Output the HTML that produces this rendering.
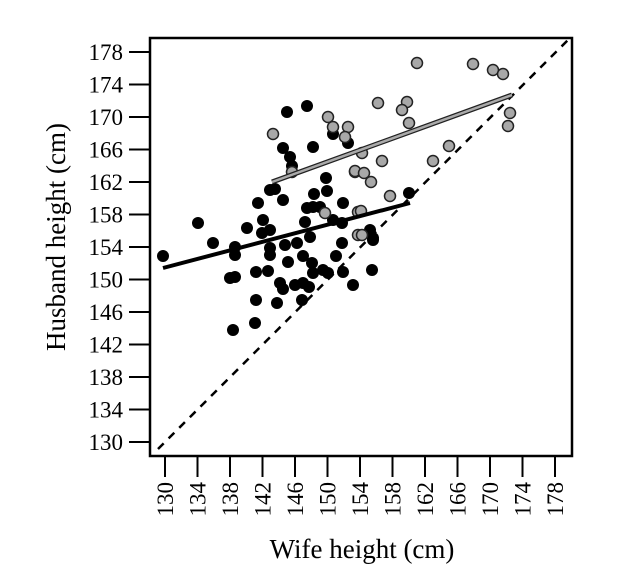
<!DOCTYPE html>
<html><head><style>body{margin:0;background:#fff}svg{display:block}</style></head><body>
<svg width="627" height="588" xmlns="http://www.w3.org/2000/svg" font-family="Liberation Serif, serif">
<rect x="150" y="38" width="422" height="418" fill="none" stroke="#000" stroke-width="2.5"/>
<g stroke="#000" stroke-width="2">
<line x1="129" x2="150" y1="52" y2="52"/><line x1="129" x2="150" y1="84.5" y2="84.5"/><line x1="129" x2="150" y1="117" y2="117"/><line x1="129" x2="150" y1="149.5" y2="149.5"/><line x1="129" x2="150" y1="182" y2="182"/><line x1="129" x2="150" y1="214.5" y2="214.5"/><line x1="129" x2="150" y1="247" y2="247"/><line x1="129" x2="150" y1="279.5" y2="279.5"/><line x1="129" x2="150" y1="312" y2="312"/><line x1="129" x2="150" y1="344.5" y2="344.5"/><line x1="129" x2="150" y1="377" y2="377"/><line x1="129" x2="150" y1="409.5" y2="409.5"/><line x1="129" x2="150" y1="442" y2="442"/>
<line y1="456" y2="477" x1="165" x2="165"/><line y1="456" y2="477" x1="197.5" x2="197.5"/><line y1="456" y2="477" x1="230" x2="230"/><line y1="456" y2="477" x1="262.5" x2="262.5"/><line y1="456" y2="477" x1="295" x2="295"/><line y1="456" y2="477" x1="327.5" x2="327.5"/><line y1="456" y2="477" x1="360" x2="360"/><line y1="456" y2="477" x1="392.5" x2="392.5"/><line y1="456" y2="477" x1="425" x2="425"/><line y1="456" y2="477" x1="457.5" x2="457.5"/><line y1="456" y2="477" x1="490" x2="490"/><line y1="456" y2="477" x1="522.5" x2="522.5"/><line y1="456" y2="477" x1="555" x2="555"/>
</g>
<g font-size="23" text-anchor="end">
<text x="123" y="60">178</text><text x="123" y="92.5">174</text><text x="123" y="125">170</text><text x="123" y="157.5">166</text><text x="123" y="190">162</text><text x="123" y="222.5">158</text><text x="123" y="255">154</text><text x="123" y="287.5">150</text><text x="123" y="320">146</text><text x="123" y="352.5">142</text><text x="123" y="385">138</text><text x="123" y="417.5">134</text><text x="123" y="450">130</text>
</g>
<g font-size="23" text-anchor="end">
<text transform="translate(173,482) rotate(-90)">130</text><text transform="translate(205.5,482) rotate(-90)">134</text><text transform="translate(238,482) rotate(-90)">138</text><text transform="translate(270.5,482) rotate(-90)">142</text><text transform="translate(303,482) rotate(-90)">146</text><text transform="translate(335.5,482) rotate(-90)">150</text><text transform="translate(368,482) rotate(-90)">154</text><text transform="translate(400.5,482) rotate(-90)">158</text><text transform="translate(433,482) rotate(-90)">162</text><text transform="translate(465.5,482) rotate(-90)">166</text><text transform="translate(498,482) rotate(-90)">170</text><text transform="translate(530.5,482) rotate(-90)">174</text><text transform="translate(563,482) rotate(-90)">178</text>
</g>
<text x="362" y="558" font-size="27" text-anchor="middle">Wife height (cm)</text>
<text transform="translate(65,237) rotate(-90)" font-size="27" text-anchor="middle">Husband height (cm)</text>
<line x1="158" y1="449" x2="570" y2="38" stroke="#000" stroke-width="2.5" stroke-dasharray="8,7"/>
<g fill="#000">
<circle cx="198" cy="223" r="6"/><circle cx="287" cy="112" r="6"/><circle cx="307" cy="106" r="6"/><circle cx="283" cy="148" r="6"/><circle cx="290" cy="157" r="6"/><circle cx="292" cy="166" r="6"/><circle cx="313" cy="147" r="6"/><circle cx="270" cy="190" r="6"/><circle cx="275" cy="189" r="6"/><circle cx="283" cy="200" r="6"/><circle cx="258" cy="203" r="6"/><circle cx="314" cy="194" r="6"/><circle cx="326" cy="178" r="6"/><circle cx="327" cy="191" r="6"/><circle cx="333" cy="134" r="6"/><circle cx="348" cy="143" r="6"/><circle cx="307" cy="208" r="6"/><circle cx="313" cy="207" r="6"/><circle cx="320" cy="207" r="6"/><circle cx="343" cy="203" r="6"/><circle cx="263" cy="220" r="6"/><circle cx="247" cy="228" r="6"/><circle cx="262" cy="233" r="6"/><circle cx="270" cy="230" r="6"/><circle cx="305" cy="222" r="6"/><circle cx="310" cy="237" r="6"/><circle cx="333" cy="220" r="6"/><circle cx="342" cy="223" r="6"/><circle cx="213" cy="243" r="6"/><circle cx="235" cy="247" r="6"/><circle cx="270" cy="248" r="6"/><circle cx="285" cy="245" r="6"/><circle cx="297" cy="243" r="6"/><circle cx="342" cy="243" r="6"/>
<circle cx="163" cy="256" r="6"/><circle cx="235" cy="255" r="6"/><circle cx="270" cy="255" r="6"/><circle cx="303" cy="256" r="6"/><circle cx="312" cy="263" r="6"/><circle cx="288" cy="262" r="6"/><circle cx="230" cy="278" r="6"/><circle cx="235" cy="277" r="6"/><circle cx="256" cy="272" r="6"/><circle cx="268" cy="271" r="6"/><circle cx="280" cy="283" r="6"/><circle cx="283" cy="289" r="6"/><circle cx="295" cy="285" r="6"/><circle cx="303" cy="283" r="6"/><circle cx="309" cy="287" r="6"/><circle cx="313" cy="273" r="6"/><circle cx="323" cy="270" r="6"/><circle cx="328" cy="273" r="6"/><circle cx="336" cy="256" r="6"/><circle cx="343" cy="272" r="6"/><circle cx="353" cy="285" r="6"/><circle cx="372" cy="270" r="6"/><circle cx="256" cy="300" r="6"/><circle cx="277" cy="303" r="6"/><circle cx="302" cy="300" r="6"/><circle cx="255" cy="323" r="6"/><circle cx="233" cy="330" r="6"/><circle cx="373" cy="240" r="6"/><circle cx="409" cy="193" r="6"/><circle cx="370" cy="230" r="6"/><circle cx="373" cy="238" r="6"/>
</g>
<g fill="#a8a8a8" stroke="#222" stroke-width="1.5">
<circle cx="273" cy="134" r="5.5"/><circle cx="328" cy="117" r="5.5"/><circle cx="333" cy="127" r="5.5"/><circle cx="348" cy="127" r="5.5"/><circle cx="345" cy="137" r="5.5"/><circle cx="355" cy="172" r="5.5"/><circle cx="325" cy="213" r="5.5"/><circle cx="358" cy="212" r="5.5"/><circle cx="358" cy="235" r="5.5"/><circle cx="292" cy="172" r="5.5"/>
<circle cx="417" cy="63" r="5.5"/><circle cx="473" cy="64" r="5.5"/><circle cx="493" cy="70" r="5.5"/><circle cx="503" cy="74" r="5.5"/><circle cx="378" cy="103" r="5.5"/><circle cx="407" cy="102" r="5.5"/><circle cx="402" cy="110" r="5.5"/><circle cx="409" cy="123" r="5.5"/><circle cx="510" cy="113" r="5.5"/><circle cx="508" cy="126" r="5.5"/><circle cx="449" cy="146" r="5.5"/><circle cx="433" cy="161" r="5.5"/><circle cx="382" cy="161" r="5.5"/><circle cx="355" cy="171" r="5.5"/><circle cx="364" cy="173" r="5.5"/><circle cx="371" cy="182" r="5.5"/><circle cx="362" cy="153" r="5.5"/><circle cx="390" cy="196" r="5.5"/><circle cx="361" cy="211" r="5.5"/><circle cx="362" cy="235" r="5.5"/>
</g>
<line x1="163" y1="268" x2="410" y2="203" stroke="#000" stroke-width="4"/>
<line x1="272" y1="182" x2="512" y2="95" stroke="#222" stroke-width="5"/>
<line x1="272" y1="182" x2="512" y2="95" stroke="#aaa" stroke-width="2.5"/>
</svg>
</body></html>
